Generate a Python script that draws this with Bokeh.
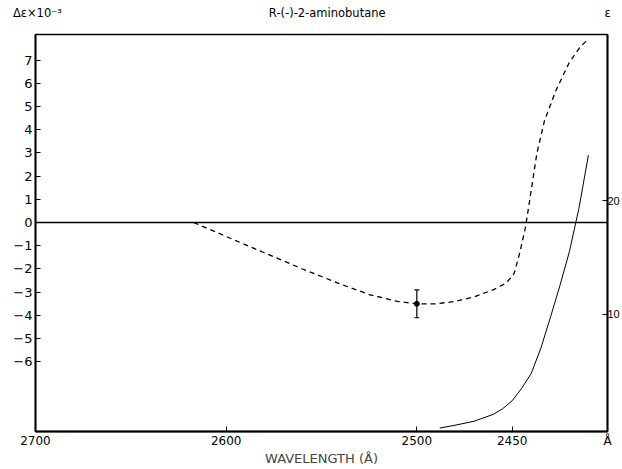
from bokeh.plotting import figure
from bokeh.models import (Range1d, LinearAxis, FixedTicker, Span,
                          Whisker, ColumnDataSource, TeeHead)
from bokeh.embed import file_html
from bokeh.resources import INLINE

# ---------------- data ----------------
title_text = "R-(-)-2-aminobutane"
x_label_text = "WAVELENGTH (Å)"
left_label_text = "Δε×10⁻³"
right_label_text = "ε"

x_ticks = [2700, 2600, 2500, 2450, 2400]
x_tick_labels = ["2700", "2600", "2500", "2450", "Å"]
left_ticks = [-6, -5, -4, -3, -2, -1, 0, 1, 2, 3, 4, 5, 6, 7]
right_ticks = [10, 20]
right_tick_labels = ["10", "20"]

# CD curve (dashed), delta-epsilon x 10^-3, left axis
cd_wl = [2617, 2600, 2580, 2560, 2540, 2525, 2510, 2500, 2490, 2480, 2470,
         2460, 2453, 2449, 2446, 2443, 2440, 2437, 2433, 2427, 2420, 2414,
         2410]
cd_de = [0.0, -0.6, -1.3, -2.0, -2.65, -3.1, -3.4, -3.5, -3.5, -3.4, -3.2,
         -2.9, -2.6, -2.2, -1.3, -0.2, 1.4, 3.0, 4.4, 5.7, 6.9, 7.6,
         7.9]

# absorption curve (solid), epsilon, right axis
abs_wl = [2488, 2480, 2470, 2460, 2455, 2450, 2445, 2440, 2435, 2430,
          2425, 2420, 2415, 2410]
abs_eps = [0.0, 0.25, 0.6, 1.2, 1.7, 2.4, 3.5, 4.8, 7.0, 9.7,
           12.5, 15.5, 19.3, 24.0]

# error bar at the CD minimum
err_wl = [2500]
err_mid = [-3.5]
err_lo = [-4.1]
err_hi = [-2.9]

# ---------------- figure ----------------
W, H = 622, 469
X0, X1 = 2700, 2400
Y0, Y1 = -9.0, 8.1
FL, FR, FT, FB = 35, 608, 34, 431  # frame edges in page pixels


def sx(px):
    return int(round(X0 + (px - FL) * (X1 - X0) / (FR - FL)))


p = figure(width=W, height=H,
           x_range=Range1d(X0, X1), y_range=Range1d(Y0, Y1),
           output_backend="svg", toolbar_location=None,
           min_border_left=FL, min_border_right=W - FR,
           min_border_top=FT, min_border_bottom=H - FB)
p.extra_y_ranges = {"eps": Range1d(-0.3, 34.6)}

p.xgrid.visible = False
p.ygrid.visible = False
p.outline_line_color = "black"
p.outline_line_width = 1.5

FONT = "DejaVu Sans"

xa = p.xaxis[0]
xa.ticker = FixedTicker(ticks=x_ticks)
xa.major_label_overrides = {t: l for t, l in zip(x_ticks, x_tick_labels)}
xa.axis_label = x_label_text
xa.axis_label_text_font = FONT
xa.axis_label_text_font_size = "13px"
xa.axis_label_text_font_style = "normal"
xa.axis_label_standoff = 0
ya = p.yaxis[0]
ya.ticker = FixedTicker(ticks=left_ticks)

ra = LinearAxis(y_range_name="eps", ticker=FixedTicker(ticks=right_ticks),
                major_label_overrides={t: l for t, l in
                                       zip(right_ticks, right_tick_labels)})
p.add_layout(ra, "right")

for ax in (xa, ya, ra):
    ax.axis_line_width = 1.8
    ax.axis_line_color = "black"
    ax.major_tick_in = 5
    ax.major_tick_out = 0
    ax.major_tick_line_width = 1
    ax.minor_tick_line_color = None
    ax.major_label_text_font = FONT
    ax.major_label_text_font_size = "13px"
    ax.major_label_text_color = "black"
xa.major_label_standoff = 2
xa.major_label_text_font_size = "12px"
ya.major_label_standoff = 3
ra.major_label_standoff = 0
ra.major_label_text_font = "Liberation Sans"
ra.major_label_text_font_size = "11px"

# top row of texts (title, left and right axis names) as an above axis
top_pos = [sx(37), sx(327), X1]
top_texts = [left_label_text, title_text, right_label_text]
ta = LinearAxis(ticker=FixedTicker(ticks=top_pos),
                major_label_overrides={t: l for t, l in
                                       zip(top_pos, top_texts)})
ta.axis_line_color = None
ta.major_tick_line_color = None
ta.minor_tick_line_color = None
ta.major_label_standoff = 9
ta.major_label_text_font = FONT
ta.major_label_text_font_size = "11.5px"
ta.major_label_text_color = "black"
p.add_layout(ta, "above")

# zero line
p.add_layout(Span(location=0, dimension="width", line_color="black",
                  line_width=1.5))

# curves
p.line(cd_wl, cd_de, line_color="black", line_width=1.3, line_dash="5 4")
p.line(abs_wl, abs_eps, y_range_name="eps", line_color="black",
       line_width=1.0)

# error bar
src = ColumnDataSource(dict(x=err_wl, lo=err_lo, hi=err_hi, mid=err_mid))
p.add_layout(Whisker(source=src, base="x", lower="lo", upper="hi",
                     line_color="black", line_width=1.2,
                     upper_head=TeeHead(size=5, line_width=1.2),
                     lower_head=TeeHead(size=5, line_width=1.2)))
p.scatter("x", "mid", source=src, size=5, color="black")

open("out.html", "w").write(file_html(p, INLINE))
